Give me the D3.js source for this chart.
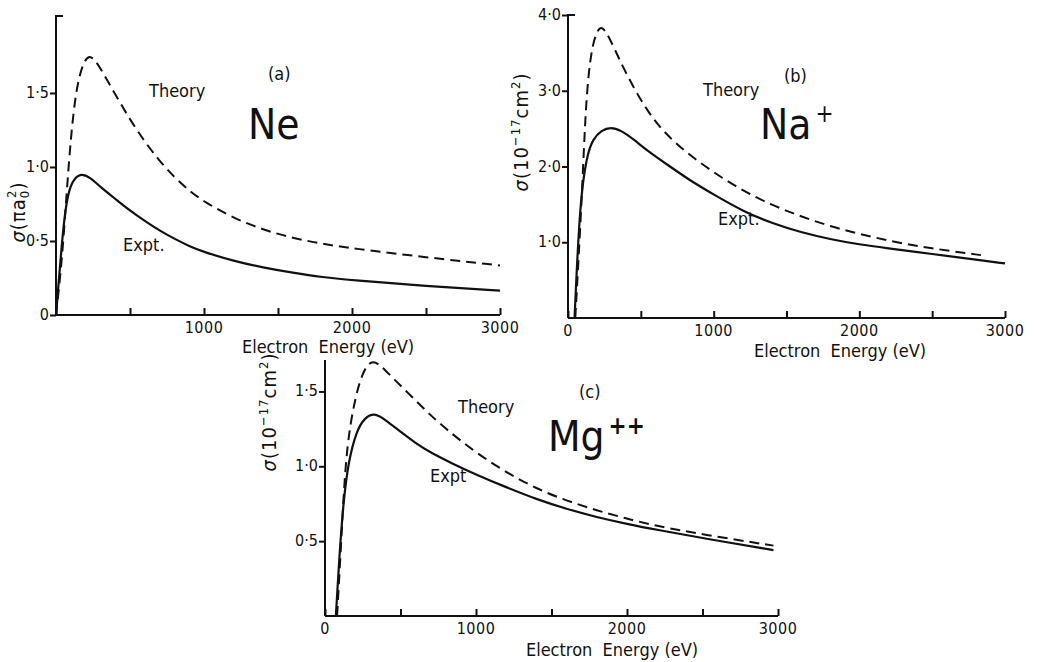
<!DOCTYPE html>
<html>
<head>
<meta charset="utf-8">
<script src="https://cdn.jsdelivr.net/npm/d3@7"></script>
<style>
  body { margin: 0; background: #fff; }
  text { font-family: "DejaVu Sans Condensed", "DejaVu Sans", sans-serif; fill: #111; }
</style>
</head>
<body>
<svg id="chart" width="1062" height="662"></svg>
<script>
// [electron energy (eV), cross section]
const neTheory = [[0,0],[40,0.36],[70,0.8],[100,1.2],[135,1.52],[180,1.7],[230,1.77],[300,1.67],[400,1.49],[500,1.32],[600,1.17],[700,1.04],[800,0.93],[900,0.84],[1000,0.765],[1200,0.655],[1400,0.575],[1600,0.52],[1800,0.48],[2000,0.45],[2500,0.39],[3000,0.335]];
const neExpt = [[0,0],[27,0.33],[50,0.6],[75,0.79],[106,0.9],[162,0.96],[230,0.93],[300,0.865],[400,0.785],[500,0.705],[600,0.635],[700,0.57],[800,0.515],[900,0.465],[1000,0.425],[1200,0.365],[1400,0.32],[1600,0.285],[1800,0.255],[2000,0.235],[2500,0.195],[3000,0.165]];

const naTheory = [[50,0],[95,1.56],[123,2.9],[160,3.55],[200,3.8],[235,3.86],[290,3.68],[350,3.42],[450,3.04],[550,2.72],[650,2.47],[800,2.2],[1000,1.92],[1200,1.68],[1400,1.49],[1600,1.34],[1800,1.21],[2000,1.11],[2200,1.02],[2400,0.95],[2600,0.89],[2835,0.83]];
const naExpt = [[45,0],[82,1.56],[130,2.15],[170,2.36],[230,2.48],[295,2.52],[360,2.48],[450,2.36],[550,2.2],[700,2.0],[850,1.8],[1000,1.63],[1200,1.41],[1400,1.25],[1600,1.13],[1800,1.04],[2000,0.97],[2200,0.92],[2400,0.87],[2600,0.82],[2800,0.77],[3000,0.72]];

const mgTheory = [[80,0],[105,0.45],[132,0.98],[166,1.29],[232,1.6],[309,1.73],[400,1.64],[500,1.54],[600,1.44],[700,1.34],[800,1.25],[1000,1.09],[1200,0.96],[1400,0.85],[1600,0.77],[1800,0.705],[2000,0.65],[2200,0.6],[2500,0.545],[2970,0.47]];
const mgExpt = [[72,0],[95,0.4],[121,0.75],[154,1.03],[210,1.24],[260,1.32],[325,1.36],[400,1.31],[500,1.23],[600,1.155],[700,1.09],[850,1.015],[1000,0.945],[1200,0.86],[1400,0.78],[1600,0.715],[1800,0.66],[2000,0.615],[2200,0.575],[2500,0.52],[2970,0.44]];

const xTickValues = [0, 500, 1000, 1500, 2000, 2500, 3000];
const xTickLabels = {0: '0', 1000: '1000', 2000: '2000', 3000: '3000'};
const neYTicks = [0, 0.5, 1.0, 1.5];
const naYTicks = [1.0, 2.0, 3.0, 4.0];
const mgYTicks = [0.5, 1.0, 1.5];

const svg = d3.select('#chart');

const panels = [
  {
    theory: neTheory, expt: neExpt, yTicks: neYTicks, yMax: 2.02, topCap: true,
    x0: 56, x1: 500, yBase: 315, yTop: 16, showX0: false,
    tag: '(a)', tagPos: [268, 80], theoryPos: [149, 97], exptPos: [123, 251],
    elem: 'Ne', sup: '', elemPos: [248, 139],
    ylabel: [25, 212], ylabelKind: 'ne', xtitle: [328, 353]
  },
  {
    theory: naTheory, expt: naExpt, yTicks: naYTicks, yMax: 4.0, topCap: true,
    x0: 568, x1: 1005, yBase: 318, yTop: 15, showX0: true,
    tag: '(b)', tagPos: [784, 82], theoryPos: [703, 96], exptPos: [718, 225],
    elem: 'Na', sup: '+', elemPos: [760, 139],
    ylabel: [528, 132], ylabelKind: 'cm', xtitle: [840, 357]
  },
  {
    theory: mgTheory, expt: mgExpt, yTicks: mgYTicks, yMax: 1.71, topCap: false,
    x0: 325, x1: 778, yBase: 616, yTop: 360, showX0: true,
    tag: '(c)', tagPos: [579, 398], theoryPos: [458, 413], exptPos: [430, 482],
    elem: 'Mg', sup: '++', elemPos: [548, 451],
    ylabel: [276, 412], ylabelKind: 'cm', xtitle: [612, 656]
  }
];

function drawPanel(p) {
  const x = d3.scaleLinear().domain([0, 3000]).range([p.x0, p.x1]);
  const y = d3.scaleLinear().domain([0, p.yMax]).range([p.yBase, p.yTop]);
  const g = svg.append('g');

  // x axis: ticks pointing up into the plot
  const xAxis = d3.axisBottom(x).tickValues(xTickValues).tickSize(-7).tickFormat('');
  const gx = g.append('g').attr('transform', `translate(0,${p.yBase})`).call(xAxis);
  gx.select('.domain').attr('d', `M${p.x0},0H${p.x1}`);
  gx.selectAll('path, line').attr('stroke', '#111').attr('stroke-width', 2);

  xTickValues.filter(v => xTickLabels[v] && (v > 0 || p.showX0)).forEach(v => {
    g.append('text').attr('x', x(v)).attr('y', p.yBase + 18)
      .attr('text-anchor', 'middle').attr('font-size', 16)
      .attr('letter-spacing', 0.5).text(xTickLabels[v]);
  });

  // y axis: ticks pointing left
  const yAxis = d3.axisLeft(y).tickValues(p.yTicks).tickSize(6).tickFormat('');
  const gy = g.append('g').attr('transform', `translate(${p.x0},0)`).call(yAxis);
  gy.select('.domain').attr('d', p.topCap ? `M7,${p.yTop}H0V${p.yBase}` : `M0,${p.yTop}V${p.yBase}`);
  gy.selectAll('path, line').attr('stroke', '#111').attr('stroke-width', 2).attr('fill', 'none');
  p.yTicks.forEach(v => {
    g.append('text').attr('x', p.x0 - 7).attr('y', y(v) + 5)
      .attr('text-anchor', 'end').attr('font-size', 16)
      .text(v === 0 ? '0' : d3.format('.1f')(v).replace('.', '·'));
  });

  const line = d3.line().x(d => x(d[0])).y(d => y(d[1])).curve(d3.curveBasis);
  g.append('path').datum(p.theory).attr('d', line)
    .attr('fill', 'none').attr('stroke', '#111').attr('stroke-width', 2)
    .attr('stroke-dasharray', '10,6');
  g.append('path').datum(p.expt).attr('d', line)
    .attr('fill', 'none').attr('stroke', '#111').attr('stroke-width', 2.2);

  // annotations
  g.append('text').attr('x', p.tagPos[0]).attr('y', p.tagPos[1]).attr('font-size', 18).text(p.tag);
  g.append('text').attr('x', p.theoryPos[0]).attr('y', p.theoryPos[1]).attr('font-size', 18).text('Theory');
  g.append('text').attr('x', p.exptPos[0]).attr('y', p.exptPos[1]).attr('font-size', 18)
    .text(p.elem === 'Mg' ? 'Expt' : 'Expt.');
  const el = g.append('text').attr('x', p.elemPos[0]).attr('y', p.elemPos[1]).attr('font-size', 42);
  el.append('tspan').text(p.elem);
  if (p.sup) {
    el.append('tspan').attr('dx', 4).attr('dy', -17).attr('font-size', 24)
      .attr('font-weight', p.sup === '++' ? 'bold' : 'normal').text(p.sup);
  }

  // y label, rotated
  const yl = g.append('text').attr('transform', `translate(${p.ylabel[0]},${p.ylabel[1]}) rotate(-90)`)
    .attr('text-anchor', 'middle').attr('font-size', 20).attr('letter-spacing', 1);
  if (p.ylabelKind === 'ne') {
    yl.append('tspan').attr('font-style', 'italic').text('σ');
    yl.append('tspan').text('(πa');
    yl.append('tspan').attr('font-size', 13).attr('dy', 4).text('0');
    yl.append('tspan').attr('font-size', 13).attr('dx', -8).attr('dy', -13).text('2');
    yl.append('tspan').attr('dy', 9).text(')');
  } else {
    yl.append('tspan').attr('font-style', 'italic').text('σ');
    yl.append('tspan').text('(10');
    yl.append('tspan').attr('font-size', 13).attr('dy', -8).text('−17');
    yl.append('tspan').attr('dy', 8).text('cm');
    yl.append('tspan').attr('font-size', 13).attr('dy', -8).text('2');
    yl.append('tspan').attr('dy', 8).text(')');
  }

  g.append('text').attr('x', p.xtitle[0]).attr('y', p.xtitle[1])
    .attr('text-anchor', 'middle').attr('font-size', 18)
    .attr('xml:space', 'preserve').text('Electron  Energy (eV)');
}

panels.forEach(drawPanel);
</script>
</body>
</html>
